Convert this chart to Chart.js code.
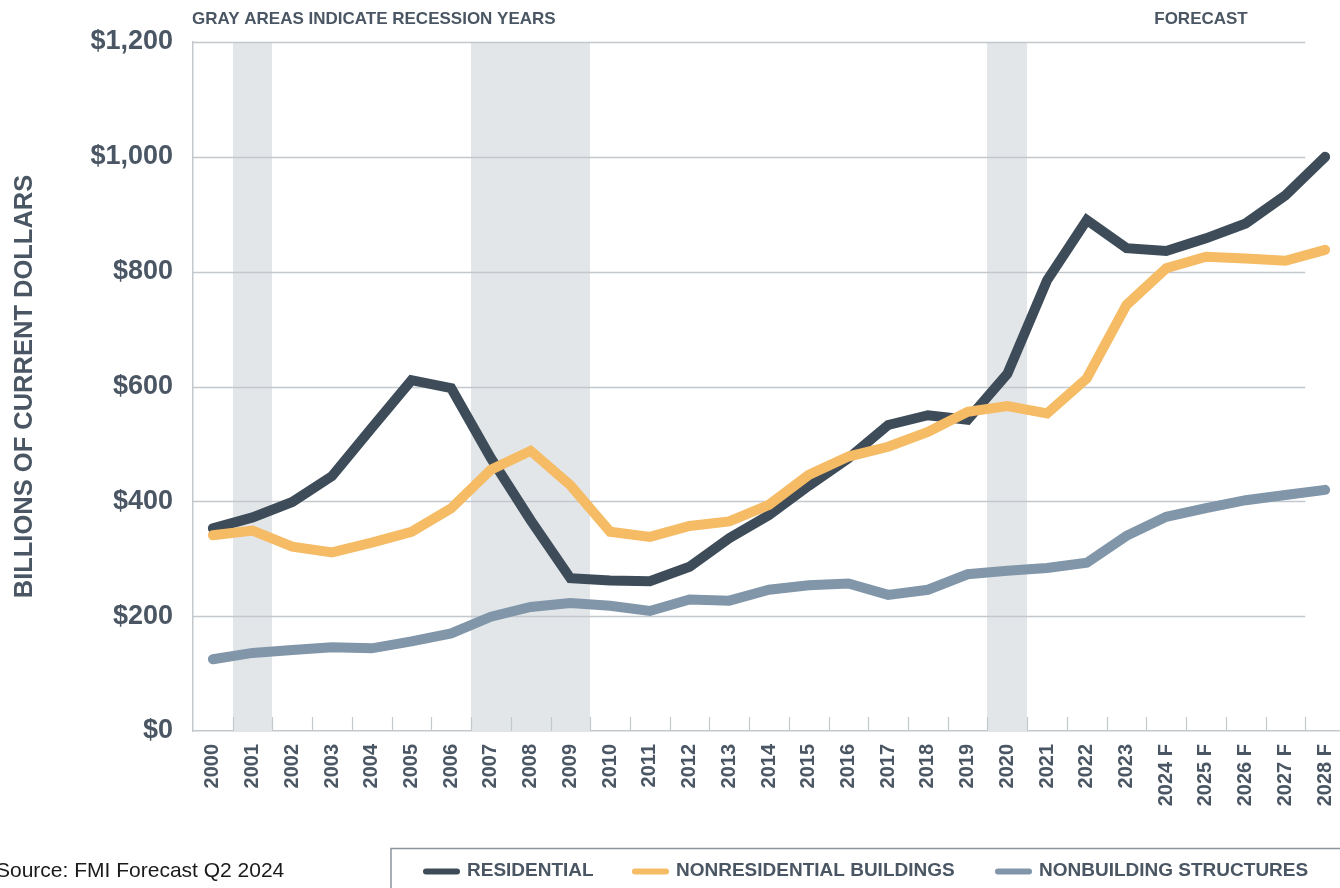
<!DOCTYPE html>
<html>
<head>
<meta charset="utf-8">
<script src="https://cdn.jsdelivr.net/npm/chart.js@4.4.1/dist/chart.umd.min.js"></script>
<style>
  html, body { margin: 0; padding: 0; overflow: hidden; background: #ffffff; }
  #wrap { width: 1345px; height: 888px; position: relative; }
</style>
</head>
<body>
<div id="wrap"><canvas id="c"></canvas></div>
<script>
// ---------- data ----------
const years = ['2000','2001','2002','2003','2004','2005','2006','2007','2008','2009',
  '2010','2011','2012','2013','2014','2015','2016','2017','2018','2019',
  '2020','2021','2022','2023','2024 F','2025 F','2026 F','2027 F','2028 F'];
const residential = [353, 372, 399, 444, 528, 611, 597, 475, 367, 266, 262, 261, 286, 336, 376, 427,
  475, 533, 550, 542, 622, 785, 890, 841, 836, 858, 884, 933, 1000];
const nonresidential = [341, 349, 321, 311, 328, 347, 388, 455, 488, 428, 347, 338, 357, 365, 394, 446,
  478, 495, 521, 556, 566, 553, 614, 742, 806, 826, 823, 819, 838];
const nonbuilding = [125, 136, 141, 146, 144, 156, 170, 199, 216, 223, 218, 209, 229, 227, 246, 254,
  257, 237, 246, 273, 279, 284, 293, 340, 373, 388, 402, 411, 420];
const recessionYears = ['2001','2007','2008','2009','2020'];
const yTickValues = [0, 200, 400, 600, 800, 1000, 1200];
const seriesLabels = ['RESIDENTIAL', 'NONRESIDENTIAL BUILDINGS', 'NONBUILDING STRUCTURES'];
const noteText = 'GRAY AREAS INDICATE RECESSION YEARS';
const forecastText = 'FORECAST';
const sourceText = 'Source: FMI Forecast Q2 2024';
const yTitle = 'BILLIONS OF CURRENT DOLLARS';

// ---------- styles ----------
const FONT = '"Liberation Sans", Arial, Helvetica, sans-serif';
const TEXT = '#4a5663';
const C_RES = '#3e4c59';
const C_NONRES = '#f5bb65';
const C_NONB = '#8196a9';
const SHADE = '#e2e6e9';
const GRID = '#c3c8cd';
const LEGEND_BORDER = '#8a949d';

const decor = {
  id: 'decor',
  beforeDatasetsDraw(chart) {
    const { ctx, chartArea: a, scales: { x, y } } = chart;
    const half = (x.getPixelForValue(1) - x.getPixelForValue(0)) / 2;
    ctx.save();
    // recession shading, contiguous years merged into one band
    const idx = recessionYears.map(yr => years.indexOf(yr)).sort((p, q) => p - q);
    const bands = [];
    idx.forEach(i => {
      const last = bands[bands.length - 1];
      if (last && i === last[1] + 1) last[1] = i; else bands.push([i, i]);
    });
    ctx.fillStyle = SHADE;
    bands.forEach(([i0, i1]) => {
      const x0 = Math.round(x.getPixelForValue(i0) - half);
      const x1 = Math.round(x.getPixelForValue(i1) + half);
      ctx.fillRect(x0, a.top, x1 - x0, a.bottom - a.top);
    });
    // horizontal gridlines (end before last category)
    const gx = x.getPixelForValue(years.length - 1) - half;
    ctx.strokeStyle = GRID;
    ctx.lineWidth = 1.5;
    yTickValues.forEach(v => {
      if (v === 0) return;
      const py = Math.round(y.getPixelForValue(v)) + 0.5;
      ctx.beginPath();
      ctx.moveTo(a.left, py);
      ctx.lineTo(gx, py);
      ctx.stroke();
    });
    // small tick marks at category boundaries
    ctx.lineWidth = 1.2;
    for (let i = 1; i < years.length; i++) {
      const px = Math.round(x.getPixelForValue(i) - half) + 0.5;
      ctx.beginPath();
      ctx.moveTo(px, a.bottom - 14);
      ctx.lineTo(px, a.bottom);
      ctx.stroke();
    }
    ctx.restore();
  },
  afterDraw(chart) {
    const { ctx, chartArea: a } = chart;
    ctx.save();
    ctx.fillStyle = TEXT;
    ctx.textBaseline = 'middle';
    ctx.font = 'bold 17px ' + FONT;
    ctx.textAlign = 'left';
    ctx.fillText(noteText, a.left - 1, 19);
    ctx.textAlign = 'center';
    ctx.fillText(forecastText, 1201, 19);

    // source
    ctx.font = '21px ' + FONT;
    ctx.textAlign = 'left';
    ctx.fillStyle = '#1a1a1a';
    ctx.fillText(sourceText, -4, 871);

    // legend box
    ctx.strokeStyle = LEGEND_BORDER;
    ctx.lineWidth = 1.5;
    ctx.beginPath();
    ctx.moveTo(391, 900);
    ctx.lineTo(391, 848.5);
    ctx.lineTo(1345, 848.5);
    ctx.stroke();

    // legend items
    const xs = [423, 632, 995];
    const ds = chart.data.datasets;
    ctx.font = 'bold 19px ' + FONT;
    ctx.lineCap = 'round';
    ds.forEach((d, i) => {
      const x0 = xs[i];
      ctx.strokeStyle = d.borderColor;
      ctx.lineWidth = 6;
      ctx.beginPath();
      ctx.moveTo(x0 + 3, 871.5);
      ctx.lineTo(x0 + 34, 871.5);
      ctx.stroke();
      ctx.fillStyle = TEXT;
      ctx.fillText(d.label, x0 + 44, 870.5);
    });
    ctx.restore();
  }
};

const mk = (label, data, color, order) => ({
  label, data,
  borderColor: color, backgroundColor: color,
  borderWidth: 10, pointRadius: 0, pointHoverRadius: 0,
  tension: 0, fill: false,
  borderCapStyle: 'round', borderJoinStyle: 'miter',
  order
});

new Chart(document.getElementById('c'), {
  type: 'line',
  data: {
    labels: years,
    datasets: [
      mk(seriesLabels[0], residential, C_RES, 1),
      mk(seriesLabels[1], nonresidential, C_NONRES, 0),
      mk(seriesLabels[2], nonbuilding, C_NONB, 2)
    ]
  },
  options: {
    responsive: true,
    maintainAspectRatio: false,
    animation: false,
    events: [],
    layout: { padding: { top: 42, bottom: 40, left: 0, right: 0 } },
    plugins: { legend: { display: false }, tooltip: { enabled: false } },
    scales: {
      x: {
        type: 'category',
        offset: true,
        grid: { display: false, drawTicks: false },
        border: { display: true, color: GRID, width: 1.5 },
        ticks: {
          autoSkip: false, maxRotation: 90, minRotation: 90,
          padding: 13,
          color: TEXT,
          font: { family: FONT, size: 20, weight: 'bold' }
        },
        afterFit(s) { s.height = 117; s.paddingRight = 0; s.paddingLeft = 0; }
      },
      y: {
        min: 0, max: 1200,
        afterBuildTicks(s) { s.ticks = yTickValues.map(v => ({ value: v })); },
        grid: { display: false, drawTicks: false },
        border: { display: true, color: GRID, width: 1.5 },
        ticks: {
          padding: 20,
          color: TEXT,
          font: { family: FONT, size: 27, weight: 'bold' },
          callback: v => '$' + Number(v).toLocaleString('en-US')
        },
        title: {
          display: true, text: yTitle, color: TEXT,
          font: { family: FONT, size: 25.5, weight: 'bold' },
          align: 'center',
          padding: { top: 10, bottom: 0 }
        },
        afterFit(s) { s.width = 193; }
      }
    }
  },
  plugins: [decor]
});
</script>
</body>
</html>
